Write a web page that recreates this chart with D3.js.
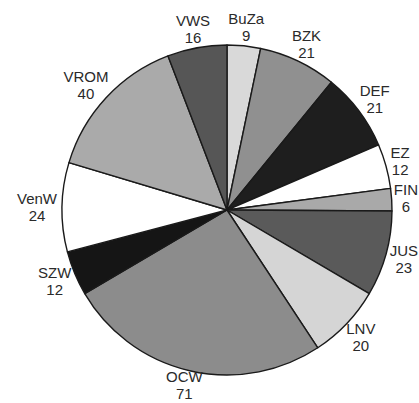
<!DOCTYPE html>
<html>
<head>
<meta charset="utf-8">
<script src="https://cdn.jsdelivr.net/npm/d3@7"></script>
<style>
body { margin:0; background:#fff; }
svg { display:block; }
</style>
</head>
<body>
<svg width="419" height="403"></svg>
<script>
var labels=["BuZa","BZK","DEF","EZ","FIN","JUS","LNV","OCW","SZW","VenW","VROM","VWS"];
var values=[9,21,21,12,6,23,20,71,12,24,40,16];
var fills=["#d9d9d9","#909090","#1e1e1e","#ffffff","#a9a9a9","#5a5a5a","#d5d5d5","#8c8c8c","#151515","#ffffff","#aaaaaa","#565656"];

var svg=d3.select("svg"),
    W=+svg.attr("width"),
    H=+svg.attr("height"),
    cx=227, cy=210, radius=165;

var g=svg.append("g")
.attr("transform","translate("+cx+","+cy+")");

var pie=d3.pie().sort(null).value(function(d){return d;});
var arc=d3.arc().innerRadius(0).outerRadius(radius);
var arcs=pie(values);

g.selectAll("path.slice")
.data(arcs)
.enter().append("path")
.attr("class","slice")
.attr("d",arc)
.attr("fill",function(d,i){return fills[i];})
.attr("stroke","#1a1a1a")
.attr("stroke-width",1.4)
.attr("stroke-linejoin","round");

// labels: name + value, two lines, pushed out past the rim
var lbl=g.selectAll("text.lbl")
.data(arcs)
.enter().append("text")
.attr("class","lbl")
.attr("text-anchor","middle")
.attr("font-family","Liberation Sans, Arial, sans-serif")
.attr("font-size","15px")
.attr("fill","#2a2a2a");

lbl.each(function(d,i){
    var t=d3.select(this);
    t.append("tspan").text(labels[i]);
    t.append("tspan").attr("dy",17).text(values[i]);
    var w=Math.max(t.select("tspan").node().getComputedTextLength(),16);
    var a=(d.startAngle+d.endAngle)/2,
        s=Math.sin(a), c=Math.cos(a),
        r=170,
        x=(r+w/2)*s,
        y=-(r+14)*c-3;
    // keep inside the right and bottom edges
    if(cx+x+w/2>W-1) x=W-1-cx-w/2;
    if(cy+y+17+4>H) y=H-4-17-cy;
    t.selectAll("tspan").attr("x",x);
    t.attr("y",y);
});
</script>
</body>
</html>
